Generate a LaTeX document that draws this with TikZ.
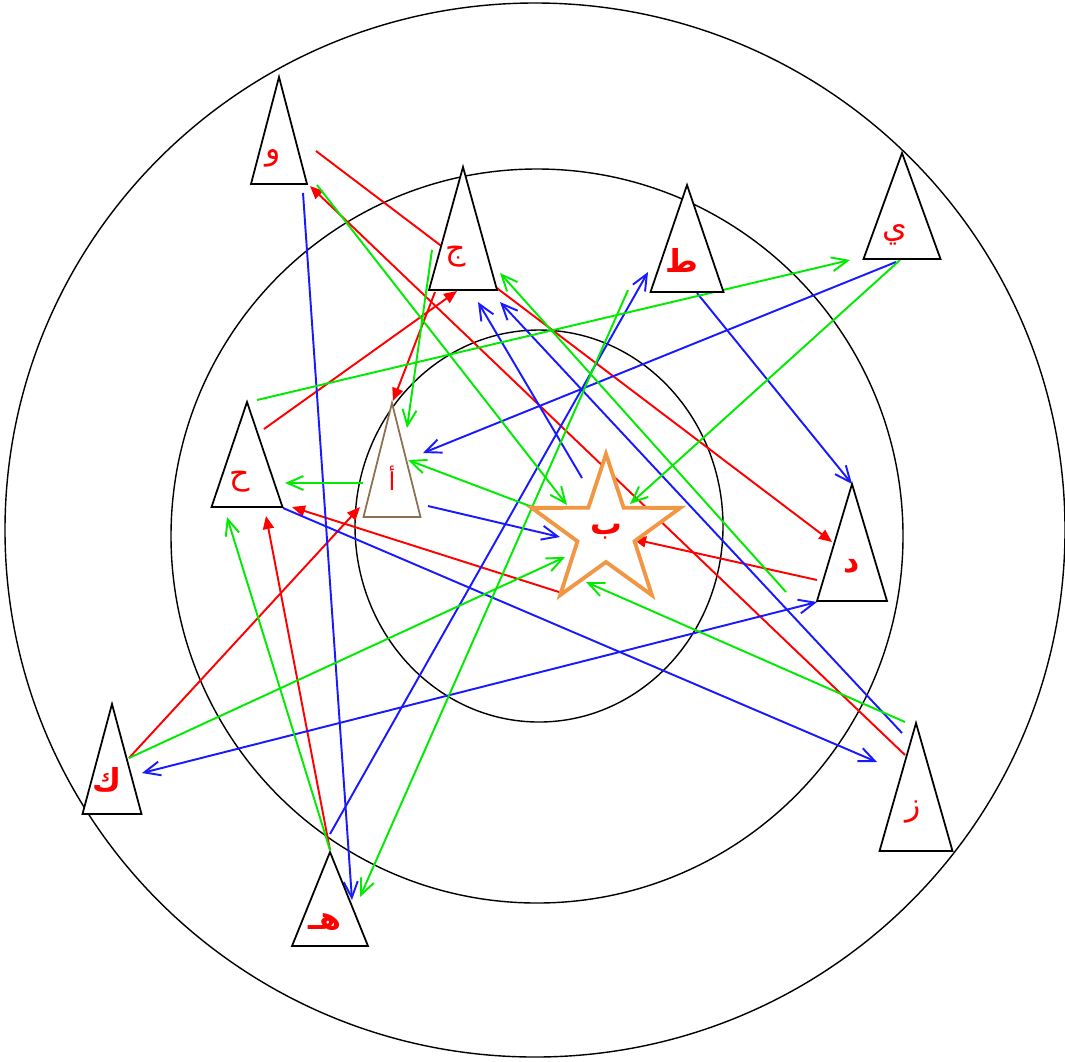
\documentclass[tikz,border=0pt]{standalone}
\usepackage{fontspec}
\newfontfamily\arabicfont[Script=Arabic]{DejaVu Sans}
\TeXXeTstate=1
\usetikzlibrary{arrows.meta, calc, shapes.geometric}
\definecolor{starorange}{RGB}{241, 151, 67}
\definecolor{tribrown}{RGB}{140, 110, 80}
\definecolor{arrred}{RGB}{255, 0, 0}
\definecolor{arrblue}{RGB}{25, 25, 255}
\definecolor{arrgreen}{RGB}{0, 235, 0}
\pgfdeclarelayer{back}
\pgfdeclarelayer{front}
\pgfsetlayers{back,main,front}
\newcommand{\artxt}[1]{\beginR#1\endR}
\newcommand{\arabtri}[4][black]{%
  \draw[tri, draw=#1] (#2) -- ++(#3,#4) -- ++({-2*(#3)},0) -- cycle;}

\begin{document}
\begin{tikzpicture}[x=0.1mm, y=-0.1mm,
  tri/.style={line width=0.5pt, fill=white},
  lab/.style={text=arrred, font=\arabicfont\fontsize{9}{9}\selectfont, inner sep=0pt},
  redarr/.style={arrred, line width=0.55pt, -{Triangle[length=1.3mm, width=1.1mm]}},
  bluearr/.style={arrblue, line width=0.55pt, -{Straight Barb[length=1.6mm, width=1.4mm]}},
  greenarr/.style={arrgreen, line width=0.55pt, -{Straight Barb[length=1.6mm, width=1.4mm]}}]
\useasboundingbox (0,0) rectangle (1065,1061);

\begin{pgfonlayer}{back}
\draw[line width=0.4pt] (535,530) ellipse [x radius=530, y radius=527];
\draw[line width=0.4pt] (537,536) ellipse [x radius=366, y radius=367];
\draw[line width=0.4pt] (539,526) ellipse [x radius=184, y radius=196];
\end{pgfonlayer}

\begin{pgfonlayer}{front}
\arabtri{279,77}{28}{107}
\node[lab] (waw) at (273,158) {\artxt{و}};
\arabtri{463,167}{34}{123}
\node[lab] (jim) at (456,257) {\artxt{ج}};
\arabtri{687,185}{36.5}{107}
\node[lab, font=\arabicfont\bfseries\fontsize{9}{9}\selectfont] (tta) at (682,260) {\artxt{ط}};
\arabtri{902,153}{38.5}{106}
\node[lab] (ya) at (895,235) {\artxt{ي}};
\arabtri{247,402}{35.5}{105}
\node[lab] (hha) at (240,482) {\artxt{ح}};
\arabtri[tribrown]{392,403}{28.5}{114}
\node[lab, font=\arabicfont\fontsize{7}{7}\selectfont] (alif) at (392,478) {\artxt{أ}};
\node[star, star points=5, star point ratio=2.6, minimum size=15.6mm, inner sep=0pt,
  draw=starorange, line width=1.1pt, fill=white, text=arrred,
  font=\arabicfont\bfseries\fontsize{9}{9}\selectfont] (ba) at (606,532) {\artxt{ب}};
\arabtri{852,484}{35}{117}
\node[lab, font=\arabicfont\bfseries\fontsize{9}{9}\selectfont] (dal) at (852,566) {\artxt{د}};
\arabtri{112,704}{29.5}{110}
\node[lab, font=\arabicfont\bfseries\fontsize{9}{9}\selectfont] (kaf) at (107,780) {\artxt{ك}};
\arabtri{330,852}{38}{94}
\node[lab, font=\arabicfont\bfseries\fontsize{9}{9}\selectfont] (he) at (325,922) {\artxt{هـ}};
\arabtri{916,723}{36.5}{128}
\node[lab] (zay) at (913,812) {\artxt{ز}};
\end{pgfonlayer}

\draw[redarr] ($(waw)+(43,-7)$) -- ($(dal)+(-20,-24)$);
\draw[redarr] ($(zay)+(-8,-57)$) -- ($(waw)+(37,28)$);
\draw[redarr] ($(hha)+(24,-53)$) -- ($(jim)+(1,34)$);
\draw[redarr] ($(jim)+(-21,35)$) -- ($(alif)+(1,-77)$);
\draw[redarr] ($(kaf)+(22,-22)$) -- ($(alif)+(-32,29)$);
\draw[redarr] ($(he)+(5,-72)$) -- ($(hha)+(26,34)$);
\draw[redarr] ($(ba)+(-47,60)$) -- ($(hha)+(52,25)$);
\draw[redarr] ($(dal)+(-35,14)$) -- ($(ba)+(27,7)$);

\draw[bluearr] ($(waw)+(30,35)$) -- ($(he)+(27,-22)$);
\draw[bluearr] ($(he)+(5,-88)$) -- ($(tta)+(-34,12)$);
\draw[bluearr] ($(ba)+(-24,-54)$) -- ($(jim)+(22,45)$);
\draw[bluearr] ($(zay)+(-11,-79)$) -- ($(jim)+(44,45)$);
\draw[bluearr] ($(ya)+(1,27)$) -- ($(alif)+(31,-25)$);
\draw[bluearr] ($(tta)+(15,33)$) -- ($(dal)+(0,-82)$);
\draw[bluearr] ($(alif)+(36,28)$) -- ($(ba)+(-46,5)$);
\draw[bluearr] ($(hha)+(43,26)$) -- ($(zay)+(-36,-50)$);
\draw[bluearr, {Straight Barb[length=1.6mm, width=1.4mm]}-{Straight Barb[length=1.6mm, width=1.4mm]}] ($(kaf)+(35,-7)$) -- ($(dal)+(-35,36)$);

\draw[greenarr] ($(hha)+(17,-82)$) -- ($(ya)+(-45,25)$);
\draw[greenarr] ($(waw)+(44,27)$) -- ($(ba)+(-39,-27)$);
\draw[greenarr] ($(jim)+(-24,-7)$) -- ($(alif)+(15,-50)$);
\draw[greenarr] ($(alif)+(-29,5)$) -- ($(hha)+(45,1)$);
\draw[greenarr] ($(ba)+(-71,-24)$) -- ($(alif)+(16,-18)$);
\draw[greenarr] ($(ya)+(5,25)$) -- ($(ba)+(24,-28)$);
\draw[greenarr] ($(zay)+(-8,-90)$) -- ($(ba)+(-20,50)$);
\draw[greenarr] ($(kaf)+(22,-22)$) -- ($(ba)+(-41,25)$);
\draw[greenarr] ($(he)+(5,-72)$) -- ($(hha)+(-13,35)$);
\draw[greenarr] ($(tta)+(-54,30)$) -- ($(he)+(35,-25)$);
\draw[greenarr] ($(dal)+(-66,26)$) -- ($(jim)+(44,16)$);
\end{tikzpicture}
\end{document}
